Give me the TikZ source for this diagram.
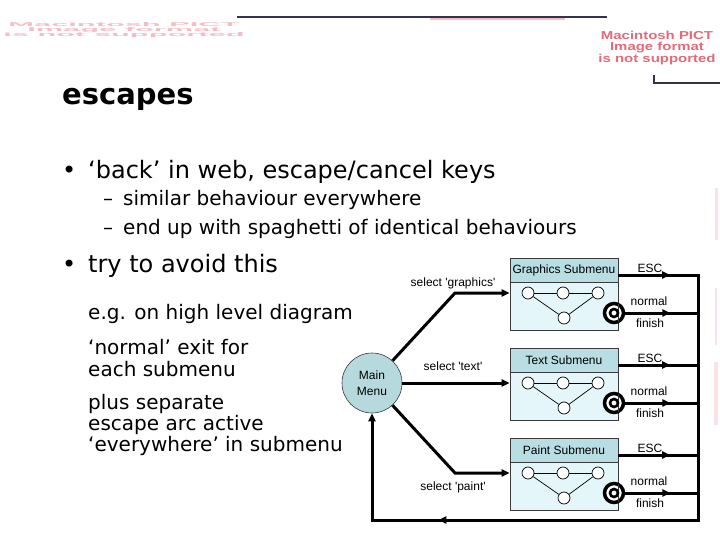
\documentclass[tikz,border=0pt]{standalone}
\usepackage{fontspec}
\setmainfont{DejaVu Sans}
\newfontfamily\arialf{Liberation Sans}[Ligatures=TeXOff]
\usetikzlibrary{arrows.meta,decorations.markings}
\definecolor{headfill}{HTML}{B8DDE2}
\definecolor{bodyfill}{HTML}{E4F6F9}
\definecolor{mainfill}{HTML}{B6D9DD}
\definecolor{boxline}{HTML}{3A3A3A}
\definecolor{navyline}{HTML}{33334D}
\definecolor{pictred}{HTML}{E46A78}
\definecolor{pictpale}{HTML}{F4BCC3}
\tikzset{
  big/.style={anchor=base west, inner sep=0, font=\fontsize{24}{28}\selectfont},
  small/.style={anchor=base west, inner sep=0, font=\fontsize{20}{24}\selectfont},
  lab/.style={inner sep=0, font=\arialf\fontsize{12}{14}\selectfont},
  headbox/.style={rectangle, minimum width=108pt, minimum height=24pt, fill=headfill, draw=boxline, line width=0.8pt, inner sep=0, font=\arialf\fontsize{12}{14}\selectfont},
  bodybox/.style={rectangle, minimum width=108pt, minimum height=48pt, fill=bodyfill, draw=boxline, line width=0.8pt, inner sep=0},
  mini/.style={circle, minimum size=12pt, inner sep=0, draw=black, line width=0.7pt, fill=white},
  finalst/.style={circle, minimum size=19pt, inner sep=0, draw=black, line width=3.5pt, fill=white},
  conn/.style={draw=black, line width=3pt},
  arr/.style={-{Triangle[length=8pt,width=7pt]}},
  midarr/.style={postaction={decorate, decoration={markings, mark=at position #1 with {\arrow{Triangle[length=8pt,width=7pt]}}}}},
}
\begin{document}
\begin{tikzpicture}[x=1pt,y=-1pt]
\useasboundingbox (0,0) rectangle (720,540);
% decorative page lines
\draw[navyline, line width=2pt] (237,17) -- (607,17);
\draw[pictpale, line width=1.5pt] (430,19) -- (565,19);
\draw[navyline, line width=1.5pt] (654,75) -- (654,83) -- (720,83);
% PICT placeholder texts
\node[align=center, inner sep=0, text=pictred, font=\arialf\bfseries\fontsize{11.5}{11.5}\selectfont, xscale=1.3] (pictr) at (657,48) {Macintosh PICT\\Image format\\is not supported};
\node[align=center, inner sep=0, text=pictpale, font=\arialf\bfseries\fontsize{11}{10}\selectfont, xscale=2.8, yscale=0.5] (pictl) at (124,30) {Macintosh PICT\\Image format\\is not supported};
\fill[pictpale, opacity=0.45] (715,188) rectangle (718,240);
\fill[pictpale, opacity=0.45] (715,288) rectangle (717,345);
\fill[pictpale, opacity=0.45] (714,362) rectangle (718,425);
% title and text
\node[anchor=base west, inner sep=0, font=\bfseries\fontsize{29}{32}\selectfont] (title) at (62,105) {escapes};
\node[big] (b1) at (62,179) {•};
\node[big] (t1) at (88,179) {‘back’ in web, escape/cancel keys};
\node[small] (d1) at (103,206) {–};
\node[small] (t2) at (123,206) {similar behaviour everywhere};
\node[small] (d2) at (103,234) {–};
\node[small] (t3) at (123,234) {end up with spaghetti of identical behaviours};
\node[big] (b2) at (62,272) {•};
\node[big] (t4) at (88,272) {try to avoid this};
\node[small] (t5) at (88,319) {e.g. on high level diagram};
\node[small] (t6) at (88,354) {‘normal’ exit for};
\node[small] (t7) at (88,376) {each submenu};
\node[small] (t8) at (88,409) {plus separate};
\node[small] (t9) at (88,430) {escape arc active};
\node[small] (t10) at (88,451) {‘everywhere’ in submenu};
% main menu
\node[circle, minimum size=60pt, inner sep=0, fill=mainfill, draw=boxline, line width=0.6pt, align=center, font=\arialf\fontsize{12}{16}\selectfont] (main) at (372,383) {Main\\Menu};
% submenus
\foreach \n/\t/\lab in {g/258/Graphics Submenu, t/348/Text Submenu, p/438/Paint Submenu} {
  \node[bodybox] (\n b) at (564,{\t+48}) {};
  \node[headbox] (\n h) at (564,{\t+12}) {\lab};
  \node[mini] (\n 1) at (528,{\t+35}) {};
  \node[mini] (\n 2) at (563,{\t+35}) {};
  \node[mini] (\n 3) at (598,{\t+35}) {};
  \node[mini] (\n 4) at (564,{\t+60}) {};
  \draw[line width=0.7pt] (\n 1) -- (\n 2) -- (\n 3);
  \draw[line width=0.7pt] (\n 1) -- (\n 4) -- (\n 3);
  \node[finalst] (\n f) at (614,{\t+55}) {};
  \draw[boxline, line width=0.8pt] (618,{\t+46}) -- (618,{\t+64});
  \draw[line width=2.6pt] (\n f.center) circle (4pt);
  \coordinate (\n e) at (698,{\t+17});
  \coordinate (\n n) at (698,{\t+55});
  \draw[conn, midarr=0.65] (\n h.east |- \n e) -- (\n e);
  \draw[conn, midarr=0.62] (\n f) -- (\n n);
  \node[lab] (\n esc) at (650,{\t+10}) {ESC};
  \node[lab] (\n nor) at (649,{\t+43}) {normal};
  \node[lab] (\n fin) at (650,{\t+65}) {finish};
}
% return path
\coordinate (br) at (698,520);
\coordinate (bl) at (372,520);
\draw[conn, line cap=rect] (ge) -- (br);
\draw[conn, arr, midarr=0.6] (br) -- (bl) -- (main);
% select arrows
\coordinate (gk) at (455,293);
\coordinate (pk) at (455,473);
\draw[conn, arr] (main) -- (gk) -- (gk -| gb.west);
\draw[conn, arr] (main.east) -- (main.east -| tb.west);
\draw[conn, arr] (main) -- (pk) -- (pk -| pb.west);
\node[lab] (sg) at (453,283) {select 'graphics'};
\node[lab] (st) at (453,366) {select 'text'};
\node[lab] (sp) at (453,487) {select 'paint'};
\end{tikzpicture}
\end{document}
